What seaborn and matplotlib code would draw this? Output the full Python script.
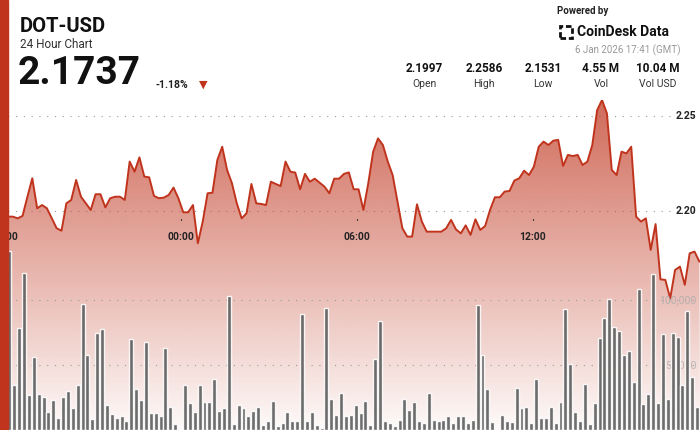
import numpy as np
import matplotlib
matplotlib.use("Agg")
import matplotlib.pyplot as plt
import seaborn as sns
from matplotlib.patches import Rectangle, Polygon

price = [2.1970, 2.1970, 2.1961, 2.1974, 2.2075, 2.2172, 2.2014, 2.2031, 2.2014, 2.1961,
         2.1909, 2.1896, 2.2040, 2.2058, 2.2163, 2.2075, 2.2040, 2.2005, 2.2088, 2.2088,
         2.2019, 2.2067, 2.2075, 2.2075, 2.2058, 2.2260, 2.2207, 2.2282, 2.2181, 2.2177,
         2.2079, 2.2067, 2.2070, 2.2084, 2.2123, 2.2067, 2.1993, 2.1993, 2.2031, 2.1830,
         2.1944, 2.2093, 2.2096, 2.2268, 2.2338, 2.2216, 2.2146, 2.2040, 2.1961, 2.1988,
         2.2142, 2.2040, 2.2037, 2.2031, 2.2154, 2.2142, 2.2131, 2.2260, 2.2207, 2.2202,
         2.2114, 2.2195, 2.2154, 2.2170, 2.2149, 2.2128, 2.2093, 2.2170, 2.2170, 2.2195,
         2.2203, 2.2114, 2.2114, 2.2005, 2.2146, 2.2312, 2.2382, 2.2347, 2.2260, 2.2189,
         2.2049, 2.1909, 2.1865, 2.1865, 2.2035, 2.1944, 2.1891, 2.1891, 2.1891, 2.1891,
         2.1909, 2.1953, 2.1903, 2.1882, 2.1924, 2.1874, 2.1956, 2.1900, 2.1921, 2.2005,
         2.2072, 2.2072, 2.2102, 2.2105, 2.2160, 2.2172, 2.2212, 2.2189, 2.2233, 2.2338,
         2.2365, 2.2347, 2.2370, 2.2374, 2.2237, 2.2295, 2.2289, 2.2295, 2.2242, 2.2260,
         2.2347, 2.2531, 2.2584, 2.2514, 2.2216, 2.2189, 2.2312, 2.2303, 2.2338, 2.1970,
         2.1944, 2.1961, 2.1795, 2.1931, 2.1640, 2.1637, 2.1540, 2.1689, 2.1707, 2.1611,
         2.1777, 2.1786, 2.1733]

volume = [137.9, 34.3, 78.5, 120.7, 27.3, 55.8, 28.0, 25.0, 14.1, 23.0,
          9.6, 25.5, 30.1, 16.7, 34.3, 97.0, 57.6, 8.3, 74.7, 77.3,
          18.9, 12.1, 9.1, 10.4, 7.1, 69.7, 31.3, 23.0, 67.9, 12.9,
          12.9, 10.9, 62.9, 17.9, 4.5, 0.5, 34.3, 20.5, 13.6, 34.8,
          21.7, 21.2, 39.4, 14.6, 17.2, 103.0, 4.8, 19.2, 16.7, 10.4,
          14.9, 17.4, 3.5, 7.1, 22.2, 3.3, 5.3, 14.1, 6.6, 6.6,
          89.4, 6.6, 14.1, 4.0, 1.5, 93.7, 23.7, 11.6, 28.3, 10.4,
          11.6, 19.2, 12.9, 22.5, 4.0, 54.5, 84.1, 7.1, 5.3, 2.8,
          7.8, 24.2, 15.4, 21.2, 7.1, 5.3, 28.8, 7.8, 7.3, 7.8,
          11.1, 5.3, 10.4, 11.1, 5.3, 7.8, 96.2, 57.8, 31.3, 6.1,
          0.8, 11.6, 6.6, 6.1, 32.3, 16.7, 17.9, 5.3, 39.4, 9.1,
          9.1, 17.9, 5.3, 21.2, 92.9, 50.8, 14.1, 7.1, 35.6, 4.8,
          20.5, 70.5, 86.1, 100.5, 79.0, 76.5, 57.6, 60.4, 36.9, 108.8,
          19.9, 28.0, 120.2, 21.0, 73.5, 24.2, 74.7, 71.7, 34.8, 91.9,
          40.7, 17.9]

time_ticks = [0, 6, 12, 18]
time_labels = ["18:00", "00:00", "06:00", "12:00"]
stats_values = ["2.1997", "2.2586", "2.1531", "4.55 M", "10.04 M"]
stats_names = ["Open", "High", "Low", "Vol", "Vol USD"]

RED = "#c0341d"
sns.set_style("white")
plt.rcParams["font.family"] = ["Roboto", "DejaVu Sans"]

fig = plt.figure(figsize=(7, 4.3), dpi=100)
ax = fig.add_axes([0, 0, 1, 330 / 430])
ax.set_xlim(-0.171, 23.70)
ax.set_ylim(2.0847, 2.2584)

hrs = np.linspace(0.1, 23.68, len(price))
bar_hrs = np.linspace(0.15, 23.6, len(volume))

# gradient fill under the price line
grad = np.zeros((256, 2, 4))
grad[:, :, :3] = np.array(matplotlib.colors.to_rgb("#c8503c"))
grad[:, :, 3] = np.linspace(0.85, 0.03, 256)[:, None]
img = ax.imshow(grad, aspect="auto", extent=[-0.171, 23.70, 2.0847, 2.2584],
                origin="upper", zorder=1)
poly = Polygon(np.column_stack([np.r_[hrs[0], hrs, hrs[-1], 23.70, -0.171, -0.171],
                                np.r_[2.0847, price, price[-1], 2.0847, 2.0847, 2.0847]]),
               closed=True, transform=ax.transData, facecolor="none", edgecolor="none")
ax.add_patch(poly)
img.set_clip_path(poly)
sns.lineplot(x=hrs, y=price, ax=ax, color=RED, linewidth=1.4, zorder=3)

for lv in [2.25, 2.20]:
    ax.axhline(lv, color="#999999", linestyle=(0, (1, 6)), linewidth=0.8, zorder=0)
    ax.text(23.58, lv, f"{lv:.2f}", ha="right", va="center", fontsize=7.5,
            fontweight="bold", color="#222222", zorder=5)

# volume bars
axv = ax.twinx()
axv.set_ylim(0, 253.8)
axv.bar(bar_hrs, volume, width=0.135, color="#5e5e5e", alpha=0.9, zorder=2)
for lv, lab in [(100, "100,000"), (50, "50,000")]:
    axv.axhline(lv, color="#999999", linestyle=(0, (1, 6)), linewidth=0.8, zorder=0)
    axv.text(23.58, lv, lab, ha="right", va="center", fontsize=7.5,
             color="#aaaaaa", alpha=0.8, zorder=1)

for t, lab in zip(time_ticks, time_labels):
    ax.text(t, 0.585, lab, transform=ax.get_xaxis_transform(), ha="center",
            va="center", fontsize=7.5, fontweight="bold", color="#222222", zorder=6)
    ax.plot([t, t], [0.635, 0.64], transform=ax.get_xaxis_transform(),
            color="#333333", linewidth=0.8, zorder=6)

for a in (ax, axv):
    a.set_xticks([])
    a.set_yticks([])
    for s in a.spines.values():
        s.set_visible(False)
ax.patch.set_alpha(0)

# left red strip
fig.patches.append(Rectangle((0, 0), 8 / 700, 1, transform=fig.transFigure,
                             color=RED, zorder=10))


def fx(px):
    return px / 700


def fy(py):
    return 1 - py / 430


fig.text(fx(20), fy(27), "DOT-USD", fontsize=14.5, fontweight="bold", color="#111111", va="center")
fig.text(fx(20), fy(44), "24 Hour Chart", fontsize=8.5, color="#333333", va="center")
fig.text(fx(18), fy(73), "2.1737", fontsize=28, fontweight="bold", color="#111111", va="center")
fig.text(fx(156), fy(85), "-1.18%", fontsize=7.5, fontweight="bold", color="#222222", va="center")
fig.text(fx(203), fy(85), "\u25BC", fontsize=8, color=RED, va="center", ha="center")

for i, (v, n) in enumerate(zip(stats_values, stats_names)):
    x = [424, 484, 543, 601, 658][i]
    fig.text(fx(x), fy(68), v, fontsize=8.5, fontweight="bold", color="#111111", ha="center", va="center")
    fig.text(fx(x), fy(84), n, fontsize=7.5, color="#333333", ha="center", va="center")

fig.text(fx(557), fy(11), "Powered by", fontsize=7, fontweight="bold", color="#222222", va="center")
fig.text(fx(577), fy(32), "CoinDesk Data", fontsize=10, fontweight="bold", color="#111111", va="center")
fig.patches.append(Rectangle((fx(560), fy(38)), 12 / 700, 12 / 430, transform=fig.transFigure,
                             facecolor="none", edgecolor="#111111", linewidth=2, linestyle=(0, (2, 1))))
fig.text(fx(681), fy(50), "6 Jan 2026 17:41 (GMT)", fontsize=7, color="#999999", ha="right", va="center")

fig.savefig("out.png", dpi=100)
